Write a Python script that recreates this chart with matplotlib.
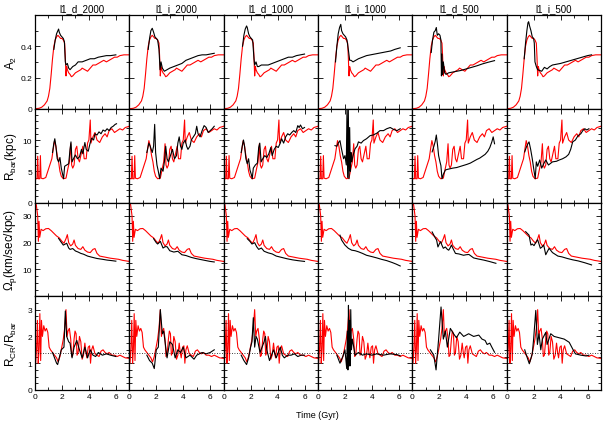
import matplotlib
matplotlib.use("Agg")
import matplotlib.pyplot as plt
from matplotlib import ticker

plt.rcParams['font.family'] = ['Liberation Sans', 'DejaVu Sans']
plt.rcParams['mathtext.fontset'] = 'custom'
plt.rcParams['mathtext.rm'] = 'Liberation Sans'
plt.rcParams['mathtext.it'] = 'Liberation Sans'
plt.rcParams['mathtext.default'] = 'regular'

# run names (columns)
runs = ['l1_d_2000', 'l1_i_2000', 'l1_d_1000', 'l1_i_1000', 'l1_d_500', 'l1_i_500']

# ---- row 1 : A2 ----
red_t_a2 = [0, 0.3, 0.5, 0.7, 0.9, 1.0, 1.1, 1.2, 1.3, 1.4, 1.5, 1.6, 1.7, 1.8, 1.9, 2.0, 2.1, 2.2, 2.25, 2.3,
            2.35, 2.4, 2.5, 2.6, 2.7, 2.8, 2.9, 3.0, 3.2, 3.4, 3.5, 3.7, 3.9, 4.1, 4.3, 4.5, 4.7, 4.9, 5.1, 5.3,
            5.5, 5.7, 5.9, 6.1, 6.3, 6.6, 7.0]
red_a2 = [0, 0.003, 0.01, 0.025, 0.05, 0.08, 0.13, 0.22, 0.32, 0.40, 0.44, 0.46, 0.47, 0.46, 0.45, 0.45, 0.44,
          0.42, 0.33, 0.21, 0.27, 0.25, 0.23, 0.22, 0.205, 0.21, 0.22, 0.23, 0.24, 0.25, 0.26, 0.25, 0.24, 0.26,
          0.28, 0.28, 0.29, 0.30, 0.31, 0.30, 0.31, 0.32, 0.33, 0.33, 0.34, 0.345, 0.345]

a2_d2000_t = [1.4, 1.5, 1.6, 1.7, 1.75, 1.8, 1.9, 2.0, 2.1, 2.18, 2.25, 2.3, 2.4, 2.5, 2.6, 2.8, 3.0, 3.2, 3.5,
              3.8, 4.1, 4.4, 4.7, 5.0, 5.3, 5.6, 6.0]
a2_d2000 = [0.38, 0.44, 0.48, 0.50, 0.51, 0.49, 0.47, 0.46, 0.45, 0.43, 0.30, 0.28, 0.29, 0.26, 0.25, 0.27, 0.28,
            0.30, 0.30, 0.31, 0.32, 0.32, 0.33, 0.335, 0.34, 0.34, 0.345]
a2_i2000_t = [1.4, 1.5, 1.6, 1.7, 1.8, 1.9, 2.0, 2.1, 2.2, 2.28, 2.35, 2.45, 2.6, 2.8, 3.0, 3.3, 3.6, 3.9, 4.2,
              4.5, 4.8, 5.1, 5.4, 5.7, 6.0, 6.3]
a2_i2000 = [0.38, 0.45, 0.50, 0.515, 0.49, 0.46, 0.45, 0.44, 0.38, 0.25, 0.30, 0.26, 0.24, 0.25, 0.26, 0.27,
            0.28, 0.29, 0.31, 0.32, 0.33, 0.34, 0.345, 0.345, 0.35, 0.355]
a2_d1000_t = [1.4, 1.5, 1.6, 1.7, 1.75, 1.85, 1.95, 2.05, 2.15, 2.25, 2.3, 2.4, 2.5, 2.6, 2.8, 3.0, 3.3, 3.6,
              3.9, 4.2, 4.5, 4.8, 5.1, 5.4, 5.7, 6.0]
a2_d1000 = [0.40, 0.47, 0.51, 0.53, 0.52, 0.48, 0.46, 0.45, 0.44, 0.32, 0.28, 0.30, 0.27, 0.27, 0.28, 0.28, 0.28,
            0.29, 0.30, 0.31, 0.32, 0.33, 0.33, 0.34, 0.345, 0.35]
a2_i1000_t = [1.3, 1.4, 1.5, 1.6, 1.69, 1.75, 1.85, 1.95, 2.05, 2.15, 2.25, 2.35, 2.45, 2.6, 2.8, 3.0, 3.3, 3.6,
              3.9, 4.2, 4.5, 4.8, 5.1, 5.4, 5.7, 6.1]
a2_i1000 = [0.30, 0.40, 0.48, 0.52, 0.54, 0.50, 0.48, 0.47, 0.46, 0.44, 0.38, 0.31, 0.31, 0.30, 0.31, 0.32, 0.33,
            0.34, 0.345, 0.35, 0.355, 0.36, 0.365, 0.37, 0.38, 0.39]
a2_d500_t = [1.4, 1.5, 1.6, 1.7, 1.78, 1.85, 1.95, 2.05, 2.12, 2.16, 2.2, 2.25, 2.3, 2.4, 2.5, 2.7, 3.0, 3.3,
             3.6, 4.0, 4.4, 4.8, 5.2, 5.6, 6.1]
a2_d500 = [0.36, 0.44, 0.49, 0.50, 0.52, 0.47, 0.48, 0.47, 0.44, 0.21, 0.35, 0.22, 0.30, 0.23, 0.22, 0.23, 0.235,
           0.24, 0.245, 0.255, 0.265, 0.275, 0.287, 0.297, 0.308]
a2_i500_t = [1.3, 1.4, 1.5, 1.58, 1.63, 1.7, 1.8, 1.9, 2.0, 2.05, 2.1, 2.2, 2.3, 2.45, 2.6, 2.8, 3.0, 3.2, 3.4,
             3.7, 4.0, 4.4, 4.8, 5.2, 5.6, 6.0, 6.3]
a2_i500 = [0.32, 0.42, 0.50, 0.55, 0.557, 0.53, 0.50, 0.46, 0.45, 0.42, 0.30, 0.27, 0.25, 0.245, 0.24, 0.265,
           0.255, 0.27, 0.28, 0.285, 0.29, 0.30, 0.31, 0.32, 0.33, 0.34, 0.345]

# ---- row 2 : R_bar ----
red_t_rbar = [0.0, 0.15, 0.2, 0.25, 0.35, 0.4, 0.45, 0.6, 0.8, 0.95, 1.1, 1.25, 1.35, 1.45, 1.55, 1.65, 1.75,
              1.85, 1.95, 2.1, 2.3, 2.45, 2.55, 2.65, 2.72, 2.8, 2.9, 3.0, 3.1, 3.2, 3.3, 3.45, 3.55, 3.65, 3.8,
              3.9, 4.0, 4.1, 4.15, 4.3, 4.45, 4.6, 4.8, 5.0, 5.2, 5.35, 5.5, 5.7, 5.9, 6.1, 6.3, 6.5, 6.7, 7.0]
red_rbar = [3.8, 3.8, 7.4, 3.8, 3.8, 7.5, 3.9, 3.8, 4.0, 5.0, 6.0, 7.0, 8.5, 9.9, 9.0, 7.5, 6.5, 5.0, 4.2, 3.8,
            3.9, 5.5, 6.5, 9.4, 6.0, 5.5, 6.0, 8.5, 9.0, 7.0, 6.5, 8.0, 9.0, 7.0, 7.0, 9.5, 10.0, 13.2, 9.5,
            10.5, 11.2, 10.0, 9.6, 10.5, 11.0, 10.5, 11.5, 11.8, 11.2, 11.5, 11.8, 11.6, 12.0, 12.2]

rbar_d2000_t = [1.3, 1.4, 1.47, 1.55, 1.65, 1.75, 1.85, 1.95, 2.05, 2.12, 2.2, 2.35, 2.5, 2.6, 2.67, 2.75, 2.9,
                3.0, 3.15, 3.3, 3.45, 3.55, 3.7, 3.8, 3.95, 4.1, 4.2, 4.35, 4.45, 4.6, 4.75, 4.9, 5.05, 5.2,
                5.35, 5.5, 5.65, 5.8, 5.95, 6.05]
rbar_d2000 = [8.0, 9.5, 10.2, 9.0, 7.0, 6.5, 7.2, 5.5, 4.5, 3.8, 5.8, 6.0, 6.2, 8.5, 9.7, 6.5, 7.2, 7.6, 7.0,
              7.3, 8.5, 7.8, 9.6, 8.5, 8.2, 9.6, 10.3, 10.0, 11.0, 10.8, 11.3, 11.0, 11.6, 11.4, 11.8, 11.5,
              12.0, 12.2, 12.5, 12.6]
rbar_i2000_t = [1.3, 1.45, 1.55, 1.7, 1.8, 1.88, 1.95, 2.05, 2.15, 2.25, 2.35, 2.5, 2.6, 2.7, 2.8, 2.9, 3.05,
                3.2, 3.35, 3.5, 3.6, 3.7, 3.8, 3.9, 4.0, 4.15, 4.25, 4.35, 4.5, 4.6, 4.75, 4.9, 5.0, 5.1, 5.25,
                5.4, 5.55, 5.7, 5.85, 6.0, 6.15, 6.3]
rbar_i2000 = [8.0, 9.5, 9.0, 8.0, 9.0, 12.5, 8.0, 6.0, 5.0, 3.8, 5.5, 5.0, 6.5, 9.0, 7.0, 6.5, 7.5, 8.5, 7.0,
              7.5, 9.5, 10.5, 9.0, 8.5, 9.5, 10.0, 9.0, 8.5, 9.0, 10.0, 10.5, 11.0, 12.2, 11.0, 10.5, 11.5,
              12.3, 12.0, 11.2, 11.5, 11.8, 12.2]
rbar_d1000_t = [1.3, 1.4, 1.47, 1.55, 1.65, 1.75, 1.85, 1.95, 2.05, 2.12, 2.2, 2.35, 2.5, 2.6, 2.68, 2.78, 2.9,
                3.05, 3.2, 3.35, 3.5, 3.6, 3.75, 3.9, 4.05, 4.2, 4.3, 4.45, 4.6, 4.75, 4.9, 5.05, 5.2, 5.35,
                5.5, 5.6, 5.7, 5.85, 6.0]
rbar_d1000 = [8.0, 9.3, 10.0, 9.0, 7.0, 6.2, 7.0, 5.2, 4.5, 3.8, 5.5, 6.0, 6.3, 8.8, 9.5, 6.5, 7.0, 7.5, 7.2,
              7.8, 8.8, 7.5, 8.5, 9.0, 8.8, 9.5, 10.2, 9.5, 10.5, 11.0, 10.8, 11.2, 11.5, 11.2, 12.3, 12.0,
              12.4, 11.8, 12.0]
rbar_i1000_t = [1.26, 1.4, 1.5, 1.63, 1.75, 1.9, 2.0, 2.1, 2.15, 2.2, 2.25, 2.3, 2.35, 2.4, 2.45, 2.5, 2.6,
                2.75, 2.9, 3.0, 3.2, 3.37, 3.6, 3.87, 4.1, 4.37, 4.6, 4.86, 5.1, 5.36, 5.6, 5.86, 6.1]
rbar_i1000 = [9.1, 9.0, 9.5, 9.9, 8.5, 7.0, 7.5, 6.0, 14.8, 4.0, 14.8, 3.8, 12.0, 5.0, 8.0, 6.5, 7.5, 8.6, 9.0,
              9.7, 9.5, 9.9, 10.2, 10.7, 10.8, 11.1, 11.5, 11.5, 11.8, 12.0, 11.7, 11.5, 11.8]
rbar_d500_t = [1.47, 1.6, 1.7, 1.78, 1.88, 1.95, 2.05, 2.12, 2.2, 2.3, 2.45, 2.6, 2.8, 3.0, 3.3, 3.6, 3.9, 4.05,
               4.3, 4.55, 4.8, 5.0, 5.2, 5.4, 5.6, 5.75, 5.9, 6.0, 6.1]
rbar_d500 = [8.1, 9.0, 9.8, 10.8, 9.0, 7.5, 6.5, 5.9, 3.8, 4.5, 5.2, 5.3, 5.4, 5.5, 5.6, 5.8, 6.0, 6.1, 6.3,
             6.6, 6.9, 7.1, 7.4, 7.7, 8.2, 8.8, 9.7, 10.5, 9.4]
rbar_i500_t = [1.34, 1.45, 1.55, 1.66, 1.78, 1.9, 2.0, 2.12, 2.2, 2.3, 2.45, 2.6, 2.75, 2.9, 3.1, 3.4, 3.7, 3.9,
               4.15, 4.4, 4.6, 4.75, 4.9, 5.1, 5.3, 5.5, 5.65, 5.8, 5.95, 6.1]
rbar_i500 = [8.1, 8.8, 9.3, 9.7, 8.5, 7.0, 5.5, 3.8, 6.5, 5.8, 6.8, 5.5, 6.2, 6.8, 6.0, 6.5, 6.6, 6.8, 7.0, 7.3,
             7.7, 8.5, 9.7, 10.0, 10.7, 11.0, 11.5, 11.8, 11.6, 11.8]

# ---- row 3 : Omega_p ----
red_t_omega = [0.0, 0.1, 0.2, 0.25, 0.3, 0.35, 0.45, 0.6, 0.8, 1.0, 1.2, 1.4, 1.6, 1.8, 2.0, 2.15, 2.3, 2.4, 2.5,
               2.65, 2.8, 2.9, 3.0, 3.2, 3.4, 3.55, 3.7, 3.9, 4.1, 4.3, 4.45, 4.6, 4.8, 5.0, 5.3, 5.6, 5.9, 6.2,
               6.5, 7.0]
red_omega = [36, 34, 30, 20.5, 28, 22, 25, 24.5, 25.2, 25.3, 24.5, 23.5, 22.5, 21.8, 20.5, 19.8, 21.5, 23.0,
             20.0, 18.8, 19.5, 21.0, 19.0, 17.8, 17.5, 18.5, 17.2, 16.5, 16.3, 17.5, 17.8, 16.0, 15.0, 14.8,
             14.5, 14.2, 14.0, 13.8, 13.4, 13.0]

omega_d2000_t = [1.75, 1.9, 2.1, 2.25, 2.35, 2.5, 2.6, 2.8, 3.0, 3.2, 3.4, 3.6, 3.9, 4.2, 4.6, 5.0, 5.35, 5.7, 6.0]
omega_d2000 = [21.6, 20.5, 19.1, 19.5, 19.8, 18.0, 17.5, 17.8, 16.9, 16.5, 16.0, 15.7, 15.0, 14.6, 14.1, 13.8,
               13.5, 13.3, 13.1]
omega_i2000_t = [1.8, 2.0, 2.1, 2.3, 2.5, 2.65, 2.8, 3.0, 3.3, 3.6, 3.9, 4.2, 4.6, 5.0, 5.5, 6.0, 6.3]
omega_i2000 = [21.5, 20.0, 19.5, 20.5, 18.0, 18.5, 18.5, 17.0, 16.5, 16.8, 15.5, 15.2, 14.5, 14.0, 13.5, 13.0,
               12.8]
omega_d1000_t = [1.75, 1.95, 2.1, 2.3, 2.45, 2.6, 2.8, 3.0, 3.3, 3.6, 3.9, 4.3, 4.7, 5.1, 5.5, 6.0]
omega_d1000 = [21.5, 20.5, 19.5, 20.0, 18.5, 17.5, 18.0, 16.8, 16.2, 15.8, 15.0, 14.5, 14.0, 13.6, 13.3, 13.0]
omega_i1000_t = [1.63, 1.75, 2.0, 2.25, 2.5, 2.75, 3.0, 3.3, 3.6, 4.0, 4.37, 4.7, 5.1, 5.5, 5.8, 6.1]
omega_i1000 = [22.8, 21.0, 19.1, 17.9, 17.2, 17.0, 16.6, 16.0, 15.3, 14.8, 14.3, 13.8, 13.3, 12.6, 12.0, 11.3]
omega_d500_t = [1.47, 1.7, 1.8, 1.9, 2.0, 2.1, 2.2, 2.3, 2.45, 2.6, 2.7, 2.8, 2.9, 3.05, 3.2, 3.45, 3.8, 4.0,
                4.2, 4.55, 4.9, 5.3, 5.7, 6.2]
omega_d500 = [24.0, 21.8, 21.0, 18.4, 19.5, 20.4, 19.0, 17.9, 18.4, 17.5, 17.2, 18.0, 19.1, 17.5, 16.0, 15.8,
              15.3, 15.5, 15.6, 14.3, 13.9, 13.5, 13.0, 12.3]
omega_i500_t = [1.41, 1.66, 1.8, 1.9, 2.03, 2.15, 2.3, 2.5, 2.65, 2.75, 2.9, 3.0, 3.15, 3.4, 3.8, 4.1, 4.5, 4.9,
                5.3, 5.8, 6.3]
omega_i500 = [24.1, 22.8, 19.1, 19.5, 18.9, 20.0, 21.1, 17.9, 18.5, 19.1, 15.5, 16.5, 17.9, 16.3, 15.0, 14.7,
              14.1, 13.6, 13.2, 12.5, 11.7]

# ---- row 4 : R_CR / R_bar ----
red_t_ratio = [0.0, 0.05, 0.12, 0.18, 0.24, 0.3, 0.36, 0.42, 0.48, 0.55, 0.65, 0.75, 0.85, 0.95, 1.05, 1.15,
               1.3, 1.45, 1.6, 1.72, 1.85, 1.95, 2.1, 2.2, 2.3, 2.38, 2.45, 2.55, 2.65, 2.72, 2.8, 2.9, 2.97,
               3.05, 3.12, 3.2, 3.3, 3.4, 3.5, 3.6, 3.7, 3.78, 3.85, 3.95, 4.05, 4.12, 4.2, 4.3, 4.45, 4.6, 4.75,
               4.9, 5.05, 5.2, 5.35, 5.5, 5.7, 5.9, 6.1, 6.3, 6.5, 6.7, 7.0]
red_ratio = [1.6, 1.0, 1.6, 2.6, 1.0, 1.5, 2.85, 1.1, 2.6, 2.0, 2.4, 2.2, 2.3, 2.15, 1.6, 1.5, 1.4, 1.3, 1.2,
             1.05, 1.25, 1.5, 1.9, 2.3, 3.0, 2.0, 2.2, 2.3, 1.9, 1.25, 1.3, 1.9, 2.2, 2.1, 1.3, 1.4, 2.0, 1.8,
             1.15, 1.3, 1.75, 1.4, 1.2, 1.6, 1.65, 1.0, 1.5, 1.65, 1.35, 1.3, 1.25, 1.45, 1.5, 1.4, 1.35, 1.4,
             1.3, 1.3, 1.25, 1.3, 1.25, 1.2, 1.18]

ratio_d2000_t = [1.3, 1.45, 1.6, 1.68, 1.8, 1.95, 2.05, 2.15, 2.25, 2.35, 2.5, 2.6, 2.75, 2.9, 3.1, 3.3, 3.5,
                 3.7, 3.9, 4.1, 4.3, 4.5, 4.7, 5.0, 5.3, 5.6, 6.0]
ratio_d2000 = [1.4, 1.2, 1.0, 0.95, 1.2, 1.5, 1.55, 1.6, 2.95, 2.0, 1.8, 1.75, 1.2, 1.6, 1.85, 1.5, 1.2, 1.6,
               1.2, 1.5, 1.3, 1.25, 1.4, 1.3, 1.35, 1.3, 1.25]
ratio_i2000_t = [1.3, 1.5, 1.7, 1.85, 2.0, 2.15, 2.3, 2.45, 2.55, 2.7, 2.8, 3.0, 3.2, 3.4, 3.6, 3.8, 4.0, 4.2,
                 4.5, 4.8, 5.0, 5.4, 5.7, 6.0, 6.3]
ratio_i2000 = [1.3, 1.1, 1.0, 0.8, 1.5, 1.6, 3.0, 2.1, 2.2, 1.6, 1.2, 1.8, 1.7, 1.2, 1.5, 1.4, 1.6, 1.2, 1.3,
               1.15, 1.3, 1.4, 1.35, 1.4, 1.5]
ratio_d1000_t = [1.3, 1.5, 1.7, 1.85, 2.0, 2.1, 2.2, 2.3, 2.4, 2.5, 2.7, 2.85, 3.0, 3.1, 3.2, 3.4, 3.55, 3.7,
                 3.9, 4.05, 4.2, 4.35, 4.5, 4.75, 5.0, 5.25, 5.5, 5.75, 6.0]
ratio_d1000 = [1.3, 1.1, 0.95, 1.2, 1.6, 1.8, 2.7, 1.6, 2.0, 1.9, 1.4, 1.6, 1.8, 2.0, 1.5, 1.1, 1.3, 1.5, 1.2,
               1.4, 1.6, 1.3, 1.2, 1.3, 1.3, 1.35, 1.25, 1.3, 1.3]
ratio_i1000_t = [1.4, 1.63, 1.88, 2.0, 2.13, 2.18, 2.22, 2.26, 2.3, 2.34, 2.38, 2.43, 2.48, 2.55, 2.62, 2.75,
                 3.0, 3.3, 3.6, 4.0, 4.36, 4.86, 5.36, 5.86, 6.1]
ratio_i1000 = [1.3, 1.0, 1.3, 1.5, 0.8, 2.2, 0.75, 3.16, 0.9, 2.6, 0.9, 3.0, 1.5, 1.9, 1.7, 1.3, 1.4, 1.3, 1.35,
               1.3, 1.35, 1.3, 1.35, 1.32, 1.28]
ratio_d500_t = [1.34, 1.59, 1.76, 1.95, 2.13, 2.3, 2.45, 2.6, 2.82, 3.06, 3.27, 3.52, 3.81, 4.18, 4.55, 4.93,
                5.17, 5.4, 5.55, 5.75, 5.9, 6.1]
ratio_d500 = [1.5, 1.3, 0.75, 1.9, 3.1, 1.9, 2.2, 1.6, 2.3, 2.1, 1.95, 2.16, 2.0, 2.1, 2.0, 2.05, 1.9, 1.85,
              1.7, 1.75, 1.6, 1.41]
ratio_i500_t = [1.34, 1.53, 1.68, 1.9, 2.0, 2.16, 2.28, 2.4, 2.53, 2.65, 2.9, 3.0, 3.27, 3.52, 3.9, 4.27, 4.64,
                4.9, 5.1, 5.5, 5.9, 6.1]
ratio_i500 = [1.5, 1.2, 0.98, 1.35, 1.9, 2.97, 1.7, 2.1, 1.5, 1.9, 2.15, 1.7, 2.1, 2.0, 1.95, 1.9, 1.78, 1.53,
              1.35, 1.3, 1.27, 1.3]

corotation_ref = 1.4

# collect per row
rows = [
    dict(red=(red_t_a2, red_a2),
         black=[(a2_d2000_t, a2_d2000), (a2_i2000_t, a2_i2000), (a2_d1000_t, a2_d1000),
                (a2_i1000_t, a2_i1000), (a2_d500_t, a2_d500), (a2_i500_t, a2_i500)],
         ylim=(0, 0.6), ticks=[0, 0.2, 0.4], minor=0.1, label=r'A$_2$'),
    dict(red=(red_t_rbar, red_rbar),
         black=[(rbar_d2000_t, rbar_d2000), (rbar_i2000_t, rbar_i2000), (rbar_d1000_t, rbar_d1000),
                (rbar_i1000_t, rbar_i1000), (rbar_d500_t, rbar_d500), (rbar_i500_t, rbar_i500)],
         ylim=(0, 15), ticks=[0, 5, 10], minor=1, label=r'R$_{bar}$(kpc)'),
    dict(red=(red_t_omega, red_omega),
         black=[(omega_d2000_t, omega_d2000), (omega_i2000_t, omega_i2000), (omega_d1000_t, omega_d1000),
                (omega_i1000_t, omega_i1000), (omega_d500_t, omega_d500), (omega_i500_t, omega_i500)],
         ylim=(0, 35), ticks=[10, 20, 30], minor=2.5, label=r'$\Omega_p$(km/sec/kpc)'),
    dict(red=(red_t_ratio, red_ratio),
         black=[(ratio_d2000_t, ratio_d2000), (ratio_i2000_t, ratio_i2000), (ratio_d1000_t, ratio_d1000),
                (ratio_i1000_t, ratio_i1000), (ratio_d500_t, ratio_d500), (ratio_i500_t, ratio_i500)],
         ylim=(0, 3.5), ticks=[0, 1, 2, 3], minor=0.25, label=r'R$_{CR}$/R$_{bar}$'),
]

fig = plt.figure(figsize=(6.03, 4.27), dpi=100)
gs = fig.add_gridspec(4, 6, left=35 / 603, right=601 / 603, top=1 - 16 / 427, bottom=1 - 391 / 427,
                      wspace=0, hspace=0)

for r, row in enumerate(rows):
    for c in range(6):
        ax = fig.add_subplot(gs[r, c])
        ax.plot(row['red'][0], row['red'][1], color='#ff0000', lw=0.8)
        bt, bv = row['black'][c]
        ax.plot(bt, bv, color='black', lw=0.8)
        if r == 3:
            ax.axhline(corotation_ref, color='black', lw=0.6, ls=(0, (1, 2)))

        ax.set_xlim(0, 7)
        ax.set_ylim(*row['ylim'])
        ax.xaxis.set_major_locator(ticker.FixedLocator([0, 2, 4, 6]))
        ax.xaxis.set_minor_locator(ticker.MultipleLocator(1))
        ax.yaxis.set_major_locator(ticker.FixedLocator(row['ticks']))
        ax.yaxis.set_minor_locator(ticker.MultipleLocator(row['minor']))
        ax.yaxis.set_major_formatter(ticker.FormatStrFormatter('%g'))
        ax.tick_params(which='both', direction='in', top=True, right=True, width=0.6, labelsize=6, pad=2)
        ax.tick_params(which='major', length=3.5)
        ax.tick_params(which='minor', length=2)
        for s in ax.spines.values():
            s.set_linewidth(0.9)

        if c != 0:
            ax.set_yticklabels([])
        else:
            ax.set_ylabel(row['label'], fontsize=8.5)
            ax.yaxis.set_label_coords(-0.17, 0.5)
        if r != 3:
            ax.set_xticklabels([])
        if r == 0:
            ax.set_title(runs[c], fontsize=7, pad=3)

fig.text(0.527, 0.028, 'Time (Gyr)', ha='center', va='center', fontsize=6.5)

fig.savefig('out.png', dpi=100)
